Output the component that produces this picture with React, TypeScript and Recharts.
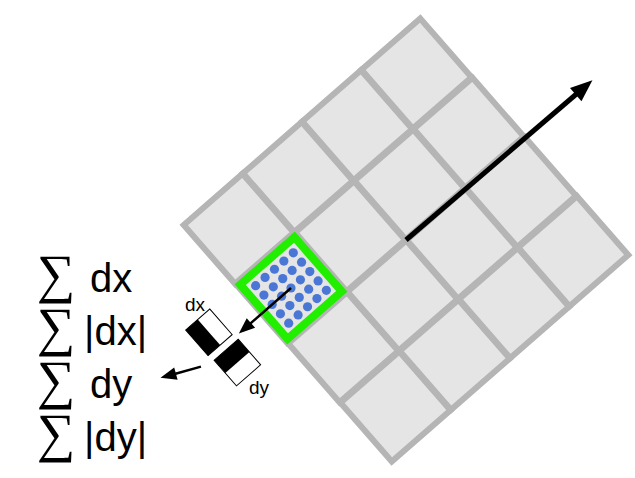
import { ScatterChart, Scatter, XAxis, YAxis } from 'recharts';

// grid frame: origin at left corner, eu along top edge, ev along bottom edge
const origin = { x: 183, y: 225 };
const eu = { x: 59.25, y: -51.75 };
const ev = { x: 52.25, y: 59.25 };
const angle = (Math.atan2(eu.y, eu.x) * 180) / Math.PI;
const toPx = (u: number, v: number) => ({ x: origin.x + u * eu.x + v * ev.x, y: origin.y + u * eu.y + v * ev.y });

const gridCols = [0, 1, 2, 3];
const gridRows = [0, 1, 2, 3];
const highlight = { u: 0, v: 1 };
const sampleSteps = [-2, -1, 0, 1, 2];
const haar = [
  { name: 'dx', u: -0.655, v: 1.239 },
  { name: 'dy', u: -0.638, v: 1.764 },
];
const arrows = [
  { from: [2, 2], to: [5.12, 2.03], w: 5, head: 22 },
  { from: [0.5, 1.5], to: [-0.38, 1.5], w: 2.5, head: 16 },
  { from: [-1.02, 1.5], to: [-1.5, 1.27], w: 2.5, head: 16 },
];
const smallLabels = [
  { text: 'dx', x: 195, y: 311 },
  { text: 'dy', x: 259, y: 394 },
];
const sumLabels = [
  { text: 'dx', x: 37, y: 292, off: 53 },
  { text: '|dx|', x: 37, y: 345, off: 47 },
  { text: 'dy', x: 37, y: 398, off: 53 },
  { text: '|dy|', x: 37, y: 451, off: 47 },
];

const cells = gridCols.flatMap((u) => gridRows.map((v) => ({ ...toPx(u + 0.5, v + 0.5) })));
const center = toPx(highlight.u + 0.5, highlight.v + 0.5);
const ul = Math.hypot(eu.x, eu.y);
const vl = Math.hypot(ev.x, ev.y);
const dots = sampleSteps.flatMap((a) =>
  sampleSteps.map((b) => ({
    x: center.x + (a * 12.5 * eu.x) / ul + (b * 12.5 * ev.x) / vl,
    y: center.y + (a * 12.5 * eu.y) / ul + (b * 12.5 * ev.y) / vl,
  }))
);
const haarData = haar.map((h) => ({ ...toPx(h.u, h.v), name: h.name }));

const CellShape = (p: any) => (
  <rect x={p.cx - 39} y={p.cy - 39} width={78} height={78} fill="#e5e5e5" stroke="#b5b5b5" strokeWidth={6}
    transform={`rotate(${angle} ${p.cx} ${p.cy})`} />
);

const GreenShape = (p: any) => (
  <rect x={p.cx - 36} y={p.cy - 36} width={72} height={72} fill="#e5e5e5" stroke="#22ee00" strokeWidth={8}
    transform={`rotate(${angle} ${p.cx} ${p.cy})`} />
);

const HaarShape = (p: any) => {
  const dx = p.payload.name === 'dx';
  return (
    <g transform={`translate(${p.cx} ${p.cy}) rotate(${angle})`}>
      <rect x={-16} y={-17} width={32} height={34} fill="#fff" stroke="#000" strokeWidth={1} />
      {dx ? <rect x={-16} y={-17} width={16} height={34} fill="#000" /> : <rect x={-16} y={-17} width={32} height={17} fill="#000" />}
    </g>
  );
};

const makeHead = (a: any) => (p: any) => {
  if (p.index === 0) return <g />;
  const s = toPx(a.from[0], a.from[1]);
  const ang = (Math.atan2(p.cy - s.y, p.cx - s.x) * 180) / Math.PI;
  const h = a.head;
  return (
    <polygon points={`0,0 ${-h},${-h * 0.4} ${-h},${h * 0.4}`} fill="#000"
      transform={`translate(${p.cx} ${p.cy}) rotate(${ang})`} />
  );
};

export default function App() {
  return (
    <div style={{ position: 'absolute', left: 0, top: 0, background: '#fff' }}>
      <ScatterChart width={635} height={478} margin={{ top: 0, right: 0, bottom: 0, left: 0 }}>
        <XAxis type="number" dataKey="x" domain={[0, 635]} hide />
        <YAxis type="number" dataKey="y" domain={[0, 478]} reversed hide />
        <Scatter data={cells} shape={CellShape} isAnimationActive={false} />
        <Scatter data={[center]} shape={GreenShape} isAnimationActive={false} />
        <Scatter data={dots} fill="#4a76d6" shape={(p: any) => <circle cx={p.cx} cy={p.cy} r={4.6} fill="#4a76d6" />} isAnimationActive={false} />
        <Scatter data={haarData} shape={HaarShape} isAnimationActive={false} />
        {arrows.map((a, i) => {
          const s = toPx(a.from[0], a.from[1]);
          const e = toPx(a.to[0], a.to[1]);
          const ang = Math.atan2(e.y - s.y, e.x - s.x);
          const e2 = { x: e.x - Math.cos(ang) * a.head * 0.8, y: e.y - Math.sin(ang) * a.head * 0.8 };
          return (
            <Scatter key={`l${i}`} data={[s, e2]} line={{ stroke: '#000', strokeWidth: a.w }} shape={() => <g />} isAnimationActive={false} />
          );
        })}
        {arrows.map((a, i) => (
          <Scatter key={`h${i}`} data={[toPx(a.from[0], a.from[1]), toPx(a.to[0], a.to[1])]} shape={makeHead(a)} isAnimationActive={false} />
        ))}
        <Scatter data={smallLabels} isAnimationActive={false}
          shape={(p: any) => <text x={p.cx} y={p.cy} textAnchor="middle" fontFamily="Liberation Sans, Arial" fontSize={19} fill="#000">{p.payload.text}</text>} />
        <Scatter data={sumLabels} isAnimationActive={false}
          shape={(p: any) => (
            <g>
              <text x={p.cx} y={p.cy} fontFamily="DejaVu Sans" fontSize={54} fontWeight={200} fill="#000">∑</text>
              <text x={p.cx + p.payload.off} y={p.cy} fontFamily="Liberation Sans, Arial" fontSize={40} fill="#000">{p.payload.text}</text>
            </g>
          )} />
      </ScatterChart>
    </div>
  );
}
